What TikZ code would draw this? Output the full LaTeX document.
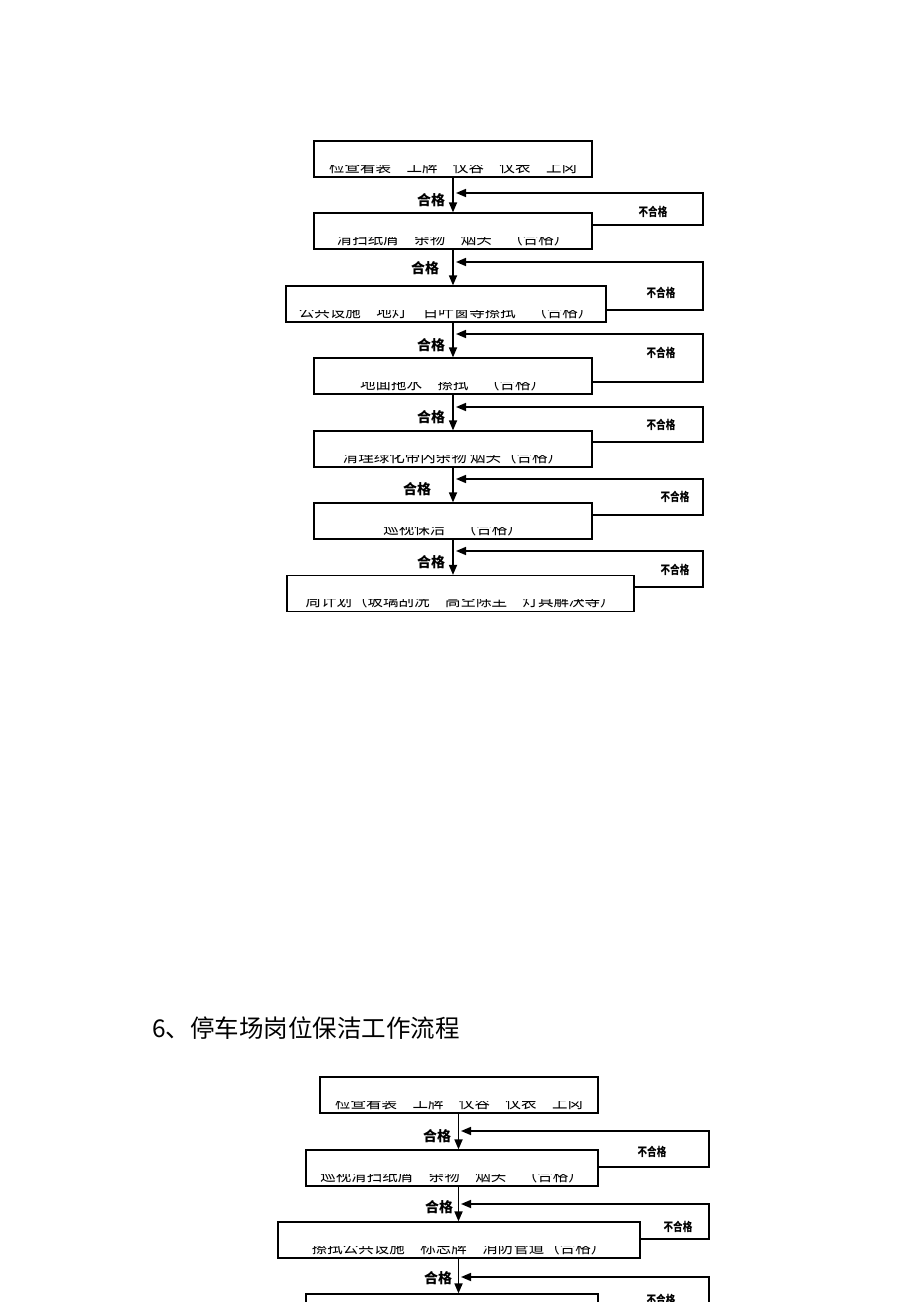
\documentclass[tikz,border=0pt]{standalone}
\usepackage{fontspec}
\usepackage{graphicx}
\newfontfamily\cjk{Noto Sans CJK SC}
\usetikzlibrary{arrows.meta,calc}
\tikzset{
  fbox/.style={draw, line width=1.2pt, minimum height=36pt, inner sep=0pt},
  btxt/.style={font=\cjk\fontsize{15.5}{16}\selectfont, inner sep=0pt, anchor=base},
  arr/.style={line width=1.7pt, -{Triangle[length=10pt,width=8pt]}},
  fb/.style={line width=1.6pt, -{Triangle[length=10pt,width=8pt]}},
  ok/.style={font=\cjk\bfseries\fontsize{14}{16}\selectfont, inner sep=0pt},
  nok/.style={font=\cjk\bfseries\fontsize{12}{14}\selectfont, inner sep=0pt},
  ttl/.style={font=\cjk\fontsize{24.5}{28}\selectfont, inner sep=0pt, anchor=west}
}
\newcommand\mybxt[3]{%
  \begin{scope}
    \clip ($(#2.south west)+(0,-12.5)$) rectangle (#2.south east);
    \node[btxt] (#1) at ($(#2.south)+(0,-5.5)$) {#3};
  \end{scope}}
\newcommand\mynok[1]{\scalebox{0.8}[1]{#1}}
\begin{document}
\begin{tikzpicture}[x=1pt,y=-1pt]
\useasboundingbox (0,0) rectangle (920,1302);
\clip (0,0) rectangle (920,1302);
\fill[white] (0,0) rectangle (920,1302);

% ---------- upper flow ----------
\coordinate (ca) at (453,0);
\node[fbox, minimum width=278] (a1) at (453,159) {};
\node[fbox, minimum width=278] (a2) at (453,231) {};
\node[fbox, minimum width=320] (a3) at (446,304) {};
\node[fbox, minimum width=278] (a4) at (453,376) {};
\node[fbox, minimum width=278] (a5) at (453,449) {};
\node[fbox, minimum width=278] (a6) at (453,521) {};
\node[fbox, minimum width=347] (a7) at (460.5,593.5) {};

\mybxt{ta1}{a1}{检查着装　工牌　仪容　仪表　上岗}
\mybxt{ta2}{a2}{清扫纸屑　杂物　烟头　（合格）}
\mybxt{ta3}{a3}{公共设施　地灯　百叶窗等擦拭　（合格）}
\mybxt{ta4}{a4}{地面拖水　擦拭　（合格）}
\mybxt{ta5}{a5}{清理绿化带内杂物 烟头（合格）}
\mybxt{ta6}{a6}{巡视保洁　（合格）}
\mybxt{ta7}{a7}{周计划（玻璃刮洗　高空除尘　灯具解决等）}

\foreach \i/\j in {1/2,2/3,3/4,4/5,5/6,6/7}
  \draw[arr] (a\i.south -| ca) -- (a\j.north -| ca);

\coordinate (ka1) at (456,193);
\coordinate (ka2) at (456,262);
\coordinate (ka3) at (456,334);
\coordinate (ka4) at (456,407);
\coordinate (ka5) at (456,479);
\coordinate (ka6) at (456,551);
\draw[fb] ($(a2.east)+(0,-6)$) -| (703,193) -- (ka1);
\draw[fb] ($(a3.east)+(0,6)$) -| (703,262) -- (ka2);
\draw[fb] ($(a4.east)+(0,6)$) -| (703,334) -- (ka3);
\draw[fb] ($(a5.east)+(0,-7)$) -| (703,407) -- (ka4);
\draw[fb] ($(a6.east)+(0,-6)$) -| (703,479) -- (ka5);
\draw[fb] ($(a7.east)+(0,-6.5)$) -| (703,551) -- (ka6);

\node[ok] (ga1) at (431,200) {合格};
\node[ok] (ga2) at (425,268) {合格};
\node[ok] (ga3) at (431,345) {合格};
\node[ok] (ga4) at (431,417) {合格};
\node[ok] (ga5) at (417,489) {合格};
\node[ok] (ga6) at (431,562) {合格};

\node[nok] (na1) at (653,212) {\mynok{不合格}};
\node[nok] (na2) at (661,293) {\mynok{不合格}};
\node[nok] (na3) at (661,353) {\mynok{不合格}};
\node[nok] (na4) at (661,425) {\mynok{不合格}};
\node[nok] (na5) at (675,497) {\mynok{不合格}};
\node[nok] (na6) at (675,570) {\mynok{不合格}};

% ---------- title ----------
\node[ttl] (title) at (152,1028) {6、停车场岗位保洁工作流程};

% ---------- lower flow ----------
\coordinate (cb) at (458.5,0);
\node[fbox, minimum width=278] (b1) at (459,1095) {};
\node[fbox, minimum width=292] (b2) at (452,1168) {};
\node[fbox, minimum width=362] (b3) at (459,1240) {};
\node[fbox, minimum width=292] (b4) at (452,1312) {};

\mybxt{tb1}{b1}{检查着装　工牌　仪容　仪表　上岗}
\mybxt{tb2}{b2}{巡视清扫纸屑　杂物　烟头　（合格）}
\mybxt{tb3}{b3}{擦拭公共设施　标志牌　消防管道（合格）}

\foreach \i/\j in {1/2,2/3,3/4}
  \draw[arr] (b\i.south -| cb) -- (b\j.north -| cb);

\coordinate (kb1) at (461,1131);
\coordinate (kb2) at (461,1204);
\coordinate (kb3) at (461,1277);
\draw[fb] ($(b2.east)+(0,-1)$) -| (709,1131) -- (kb1);
\draw[fb] ($(b3.east)+(0,-1)$) -| (709,1204) -- (kb2);
\draw[fb] (b4.east) -| (709,1277) -- (kb3);

\node[ok] (gb1) at (437,1136) {合格};
\node[ok] (gb2) at (439,1207) {合格};
\node[ok] (gb3) at (438,1278) {合格};

\node[nok] (nb1) at (652,1152) {\mynok{不合格}};
\node[nok] (nb2) at (678,1227) {\mynok{不合格}};
\node[nok] (nb3) at (661,1300) {\mynok{不合格}};
\end{tikzpicture}
\end{document}
